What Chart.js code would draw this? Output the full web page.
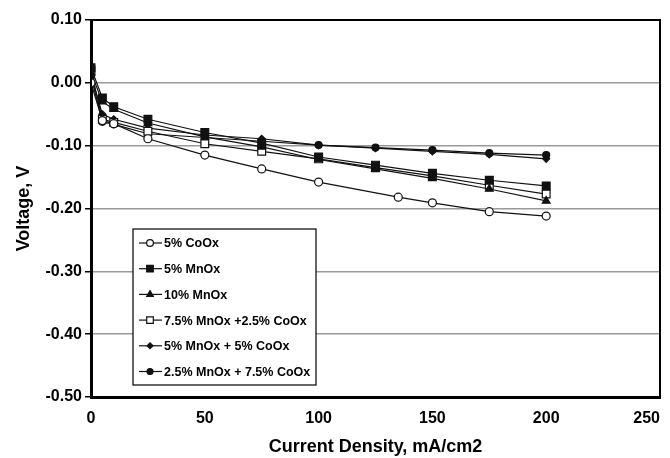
<!DOCTYPE html>
<html>
<head>
<meta charset="utf-8">
<script src="https://cdn.jsdelivr.net/npm/chart.js@4.4.0/dist/chart.umd.min.js"></script>
<style>
  html, body { margin: 0; padding: 0; background: #fff; }
  #wrap { width: 670px; height: 458px; position: relative; }
</style>
</head>
<body>
<div id="wrap"><canvas id="polChart"></canvas></div>
<script>
// current density steps (mA/cm2)
var currentDensity = [0, 5, 10, 25, 50, 75, 100, 125, 150, 175, 200];
var coOxDensity = [0, 5, 10, 25, 50, 75, 100, 135, 150, 175, 200];

// voltages (V)
var coOx5 = [0.000, -0.060, -0.065, -0.089, -0.115, -0.137, -0.158, -0.182, -0.191, -0.205, -0.212];
var mnOx5 = [0.024, -0.024, -0.038, -0.058, -0.079, -0.096, -0.118, -0.131, -0.144, -0.155, -0.164];
var mnOx10 = [0.016, -0.030, -0.042, -0.064, -0.086, -0.102, -0.122, -0.137, -0.152, -0.169, -0.188];
var mn75co25 = [0.020, -0.058, -0.063, -0.077, -0.097, -0.109, -0.121, -0.135, -0.148, -0.163, -0.177];
var mn5co5 = [0.012, -0.050, -0.058, -0.072, -0.083, -0.089, -0.099, -0.104, -0.109, -0.114, -0.121];
var mn25co75 = [0.010, -0.062, -0.066, -0.081, -0.087, -0.093, -0.099, -0.103, -0.107, -0.112, -0.115];

var seriesLabels = ["5% CoOx", "5% MnOx", "10% MnOx", "7.5% MnOx +2.5% CoOx", "5% MnOx + 5% CoOx", "2.5% MnOx + 7.5% CoOx"];

var xTicks = [0, 50, 100, 150, 200, 250];
var yTicks = [0.10, 0.00, -0.10, -0.20, -0.30, -0.40, -0.50];

var fontFam = "'Liberation Sans', Arial, Helvetica, sans-serif";

function pairs(xs, ys) {
  return ys.map(function (v, i) { return { x: xs[i], y: v }; });
}

function makeSet(label, xs, ys, style, radius, fill) {
  return {
    label: label,
    data: pairs(xs, ys),
    borderColor: "#111",
    borderWidth: 1.2,
    pointStyle: style,
    pointRadius: radius,
    pointBorderWidth: 1.2,
    pointBorderColor: "#111",
    pointBackgroundColor: fill,
    tension: 0,
    fill: false
  };
}

var datasets = [
  makeSet(seriesLabels[0], coOxDensity, coOx5, "circle", 4, "#fff"),
  makeSet(seriesLabels[1], currentDensity, mnOx5, "rect", 5.5, "#111"),
  makeSet(seriesLabels[2], currentDensity, mnOx10, "triangle", 4.5, "#111"),
  makeSet(seriesLabels[3], currentDensity, mn75co25, "rect", 5.5, "#fff"),
  makeSet(seriesLabels[4], currentDensity, mn5co5, "rectRot", 3.5, "#111"),
  makeSet(seriesLabels[5], currentDensity, mn25co75, "circle", 3.5, "#111")
];

// box round the plot area
var framePlugin = {
  id: "frame",
  afterDraw: function (chart) {
    var a = chart.chartArea, c = chart.ctx;
    c.save();
    c.strokeStyle = "#000";
    c.lineWidth = 2;
    c.strokeRect(a.left, a.top, a.right - a.left, a.bottom - a.top);
    c.restore();
  }
};

// legend in a box inside the plot, lower left
var boxLegend = {
  id: "boxLegend",
  afterDraw: function (chart) {
    var c = chart.ctx;
    var left = 133, top = 229, w = 183, h = 156;
    c.save();
    c.fillStyle = "#fff";
    c.fillRect(left, top, w, h);
    c.strokeStyle = "#000";
    c.lineWidth = 1.2;
    c.strokeRect(left, top, w, h);
    c.font = "bold 12.5px " + fontFam;
    c.textBaseline = "middle";
    c.fillStyle = "#000";
    chart.data.datasets.forEach(function (ds, i) {
      var y = 243 + i * 25.7;
      c.strokeStyle = "#111";
      c.lineWidth = 1.2;
      c.beginPath();
      c.moveTo(139, y);
      c.lineTo(162, y);
      c.stroke();
      c.fillStyle = ds.pointBackgroundColor;
      c.strokeStyle = ds.pointBorderColor;
      Chart.helpers.drawPoint(c, { pointStyle: ds.pointStyle, radius: ds.pointRadius * 0.85, borderWidth: 1.2, rotation: 0 }, 150, y);
      c.fillStyle = "#000";
      c.fillText(ds.label, 164, y + 1);
    });
    c.restore();
  }
};

var ctx = document.getElementById("polChart").getContext("2d");
var polChart = new Chart(ctx, {
  type: "line",
  data: { datasets: datasets },
  plugins: [framePlugin, boxLegend],
  options: {
    responsive: true,
    maintainAspectRatio: false,
    animation: false,
    layout: { padding: { left: 0, top: 20, right: 10, bottom: 0 } },
    plugins: {
      legend: { display: false },
      tooltip: { enabled: false }
    },
    scales: {
      x: {
        type: "linear",
        min: 0,
        max: 250,
        afterBuildTicks: function (s) { s.ticks = xTicks.map(function (v) { return { value: v }; }); },
        afterFit: function (s) { s.height = 61; s.paddingLeft = 0; s.paddingRight = 0; },
        grid: { display: false },
        border: { display: true, color: "#000", width: 3 },
        ticks: {
          color: "#000",
          padding: 4,
          font: { family: fontFam, size: 16, weight: "bold" },
          // last label is pulled inside the canvas, like the original
          callback: function (v) { return v === 250 ? "250\u2007\u2007\u2007" : String(v); }
        },
        title: {
          display: true,
          text: "Current Density, mA/cm2",
          color: "#000",
          padding: { top: 13, bottom: 0 },
          font: { family: fontFam, size: 18, weight: "bold" }
        }
      },
      y: {
        min: -0.5,
        max: 0.1,
        afterBuildTicks: function (s) { s.ticks = yTicks.map(function (v) { return { value: v }; }); },
        afterFit: function (s) { s.width = 91; },
        grid: { color: "#9a9a9a", lineWidth: 1.5, tickLength: 6, tickColor: "#000", tickWidth: 1.5 },
        border: { display: true, color: "#000", width: 3 },
        ticks: {
          color: "#000",
          padding: 3,
          font: { family: fontFam, size: 16, weight: "bold" },
          callback: function (v) { return Number(v).toFixed(2); }
        },
        title: {
          display: true,
          text: "Voltage, V",
          color: "#000",
          padding: { top: 13, bottom: 0 },
          font: { family: fontFam, size: 18, weight: "bold" }
        }
      }
    }
  }
});
</script>
</body>
</html>
